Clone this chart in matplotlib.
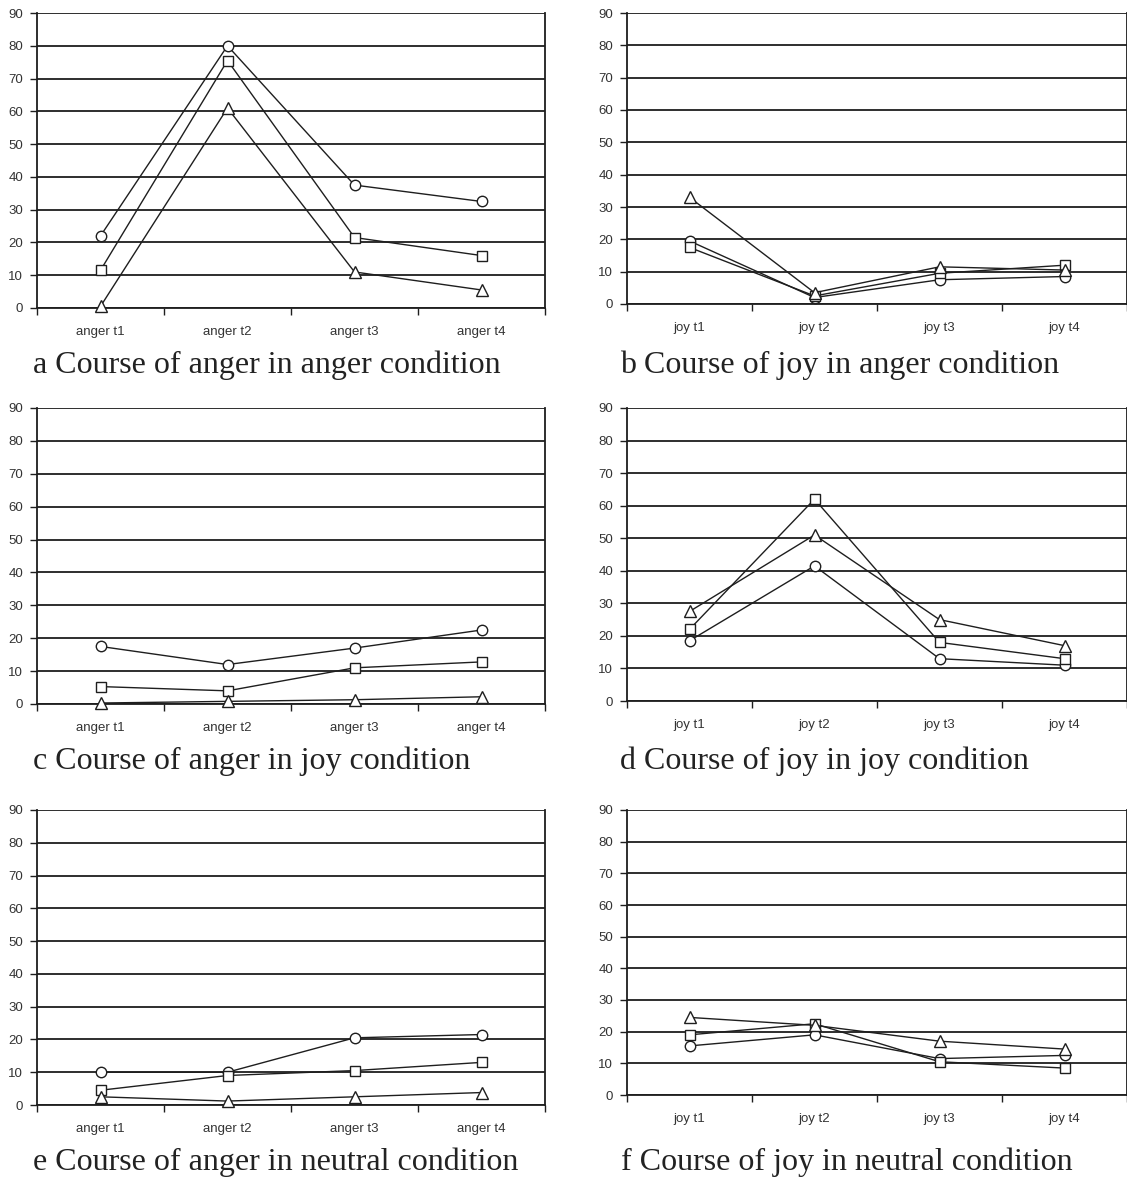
import matplotlib
matplotlib.use("Agg")
import matplotlib.pyplot as plt
import numpy as np

W, H = 1127, 1179

anger_labels = ["anger t1", "anger t2", "anger t3", "anger t4"]
joy_labels = ["joy t1", "joy t2", "joy t3", "joy t4"]

# a: anger in anger condition
a_circle = [22, 80, 37.5, 32.5]
a_square = [11.5, 75.5, 21.5, 16]
a_triangle = [0.5, 61, 11, 5.5]
# b: joy in anger condition
b_circle = [19.5, 2, 7.5, 8.5]
b_square = [17.5, 2.5, 9.5, 12]
b_triangle = [33, 3.5, 11.5, 10.5]
# c: anger in joy condition
c_circle = [17.5, 12, 17, 22.5]
c_square = [5.3, 4, 11, 12.8]
c_triangle = [0.3, 0.8, 1.3, 2.2]
# d: joy in joy condition
d_circle = [18.5, 41.5, 13, 11]
d_square = [22, 62, 18, 13]
d_triangle = [27.5, 51, 25, 17]
# e: anger in neutral condition
e_circle = [10, 10, 20.5, 21.5]
e_square = [4.5, 9, 10.5, 13]
e_triangle = [2.5, 1.2, 2.5, 3.8]
# f: joy in neutral condition
f_circle = [15.5, 19, 11.5, 12.5]
f_square = [19, 22.5, 10.5, 8.5]
f_triangle = [24.5, 22, 17, 14.5]

captions = ["a Course of anger in anger condition",
            "b Course of joy in anger condition",
            "c Course of anger in joy condition",
            "d Course of joy in joy condition",
            "e Course of anger in neutral condition",
            "f Course of joy in neutral condition"]

panels = [
    (anger_labels, a_circle, a_square, a_triangle),
    (joy_labels, b_circle, b_square, b_triangle),
    (anger_labels, c_circle, c_square, c_triangle),
    (joy_labels, d_circle, d_square, d_triangle),
    (anger_labels, e_circle, e_square, e_triangle),
    (joy_labels, f_circle, f_square, f_triangle),
]

# pixel boxes: left, right, top, bottom
boxes = [(37, 545, 13, 308), (627, 1127, 13, 304),
         (37, 545, 408, 704), (627, 1127, 408, 701),
         (37, 545, 810, 1105), (627, 1127, 810, 1095)]
cap_pos = [(33, 373), (620, 373), (33, 769), (620, 769), (33, 1170), (621, 1170)]

ink = "#1e1e1e"
txt = "#333333"

fig = plt.figure(figsize=(W / 100, H / 100), dpi=100)

for (labels, circ, sq, tri), (l, r, t, b), cap, (cx, cy) in zip(panels, boxes, captions, cap_pos):
    ax = fig.add_axes([l / W, 1 - b / H, (r - l) / W, (b - t) / H])
    x = np.arange(len(labels))
    for vals, mk, ms in [(circ, "o", 7.5), (sq, "s", 7.5), (tri, "^", 9)]:
        ax.plot(x, vals, color=ink, lw=1.0, marker=mk, ms=ms,
                mfc="white", mec=ink, mew=1.0, clip_on=False, zorder=3)
    ax.set_xlim(-0.5, 3.5)
    ax.set_ylim(0, 90)
    ax.set_yticks(np.arange(0, 91, 10))
    ax.yaxis.grid(True, color=ink, lw=1.3)
    ax.set_axisbelow(True)
    ax.set_xticks(x)
    ax.set_xticklabels(labels)
    ax.set_xticks(np.arange(-0.5, 4, 1), minor=True)
    ax.tick_params(axis="x", which="major", length=0, pad=13, labelsize=9.5, labelcolor=txt)
    ax.tick_params(axis="x", which="minor", length=5, width=1.0, color=ink, direction="out")
    ax.tick_params(axis="y", length=5, width=1.0, color=ink, pad=5, labelsize=9.5, labelcolor=txt)
    for lab in ax.get_xticklabels() + ax.get_yticklabels():
        lab.set_family("Liberation Sans")
    for side in ["left", "right", "bottom"]:
        ax.spines[side].set_color(ink)
        ax.spines[side].set_linewidth(1.3)
    ax.spines["top"].set_visible(False)
    fig.text(cx / W, 1 - cy / H, cap, family="Liberation Serif", size=23,
             color="#222222", va="baseline", ha="left")

fig.savefig("out.png", dpi=100)
